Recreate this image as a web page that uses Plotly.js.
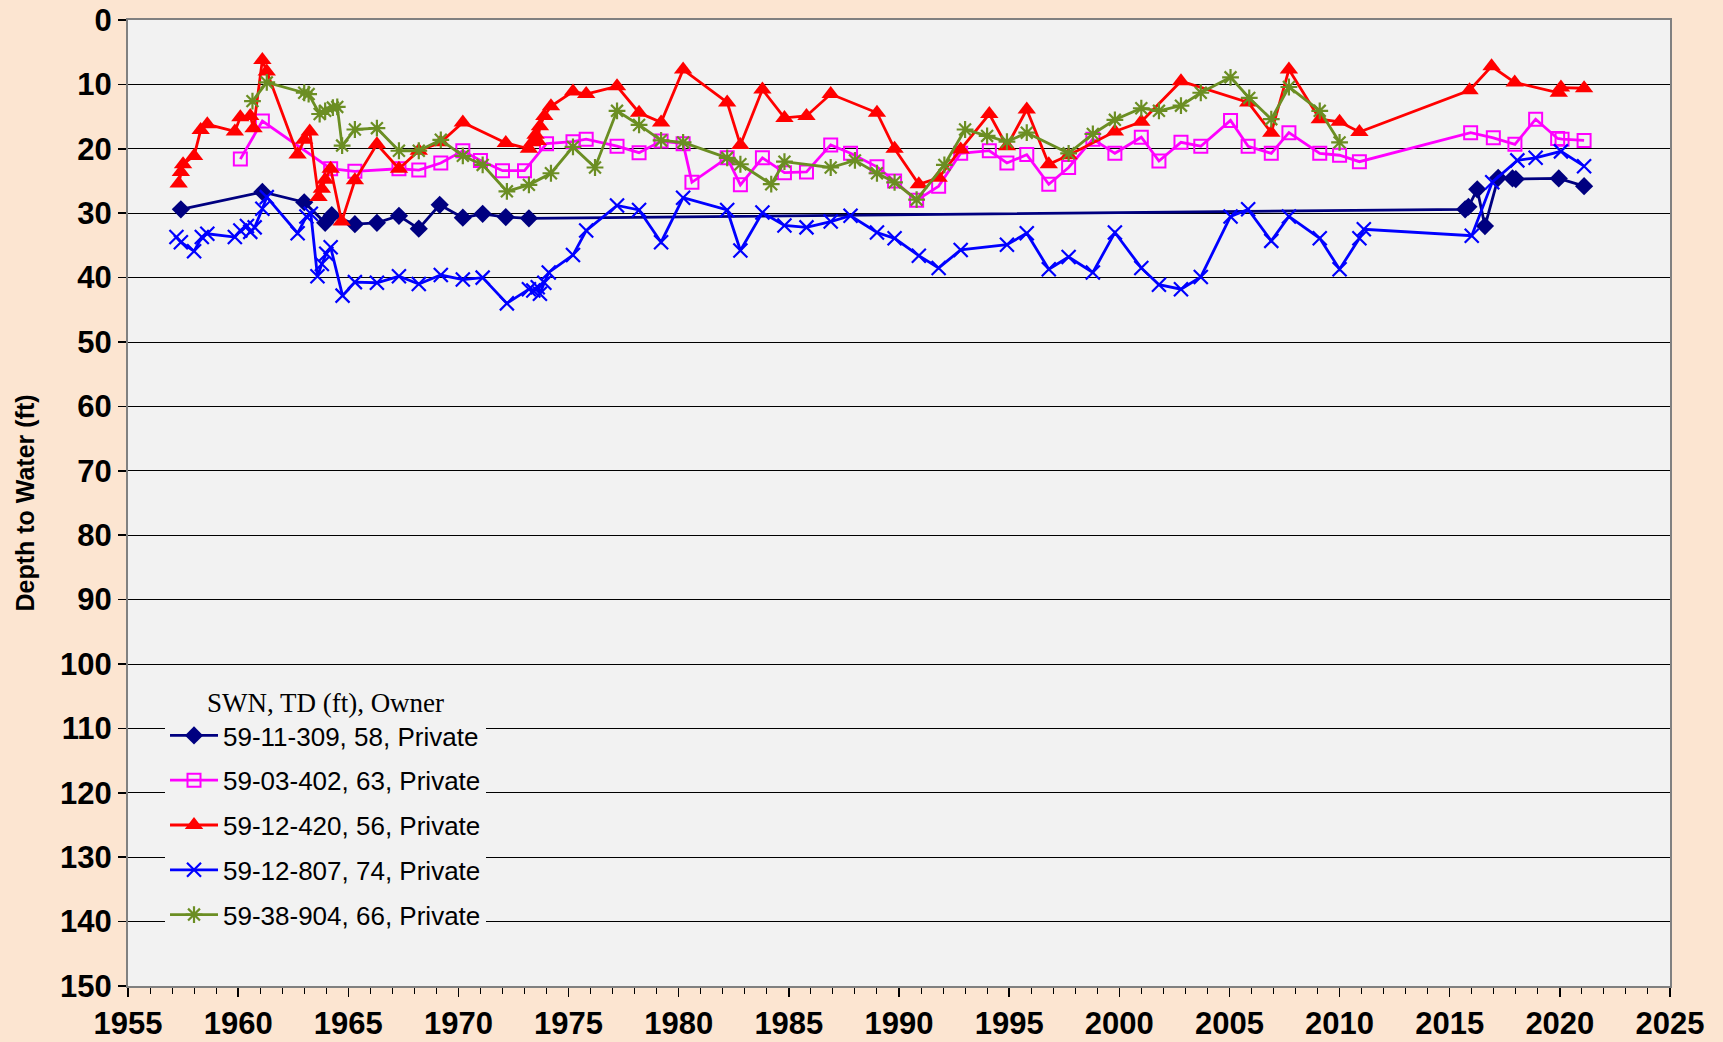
<!DOCTYPE html>
<html>
<head>
<meta charset="utf-8">
<script src="https://cdn.plot.ly/plotly-3.0.1.min.js"></script>
<style>html,body{margin:0;padding:0;background:#FCE5D1;}#chart{width:1723px;height:1042px;}</style>
</head>
<body>
<div id="chart"></div>
<script>
// Series names
const names = ["59-11-309, 58, Private", "59-03-402, 63, Private", "59-12-420, 56, Private", "59-12-807, 74, Private", "59-38-904, 66, Private"];

// 59-11-309
const x309 = [1957.4, 1961.1, 1963.0, 1963.95, 1964.25, 1965.3, 1966.3, 1967.3, 1968.2, 1969.15, 1970.2, 1971.1, 1972.15, 1973.2, 2015.7, 2015.85, 2016.25, 2016.6, 2017.2, 2017.85, 2018.0, 2019.95, 2021.1];
const y309 = [29.4, 26.7, 28.3, 31.5, 30.3, 31.7, 31.5, 30.4, 32.4, 28.7, 30.7, 30.1, 30.6, 30.8, 29.4, 29.0, 26.3, 32.0, 24.5, 24.6, 24.7, 24.6, 25.8];

// 59-03-402
const x402 = [1960.1, 1961.1, 1964.2, 1965.3, 1967.3, 1968.2, 1969.2, 1970.2, 1971.0, 1972.0, 1973.0, 1974.0, 1975.2, 1975.8, 1977.2, 1978.2, 1979.2, 1980.2, 1980.6, 1982.2, 1982.8, 1983.8, 1984.8, 1985.8, 1986.9, 1987.8, 1989.0, 1989.8, 1990.8, 1991.8, 1992.8, 1994.1, 1994.9, 1995.8, 1996.8, 1997.7, 1998.8, 1999.8, 2001.0, 2001.8, 2002.8, 2003.7, 2005.05, 2005.85, 2006.9, 2007.7, 2009.1, 2010.0, 2010.9, 2015.95, 2016.98, 2017.96, 2018.9, 2019.9, 2020.1, 2021.1];
const y402 = [21.6, 15.7, 23.1, 23.5, 23.1, 23.3, 22.2, 20.3, 21.8, 23.4, 23.4, 19.2, 18.9, 18.5, 19.6, 20.6, 18.8, 19.2, 25.2, 21.4, 25.6, 21.4, 23.7, 23.6, 19.4, 20.7, 22.8, 25.0, 28.0, 25.8, 20.7, 20.3, 22.2, 20.9, 25.5, 22.9, 18.5, 20.7, 18.2, 21.9, 19.0, 19.6, 15.6, 19.6, 20.7, 17.5, 20.7, 21.0, 22.0, 17.5, 18.3, 19.3, 15.4, 18.4, 18.5, 18.7];

// 59-12-420
const x420 = [1957.3, 1957.4, 1957.5, 1958.0, 1958.3, 1958.6, 1959.85, 1960.1, 1960.55, 1960.7, 1961.1, 1961.3, 1962.7, 1963.0, 1963.25, 1963.65, 1963.8, 1963.95, 1964.2, 1964.7, 1965.3, 1966.3, 1967.3, 1968.2, 1969.2, 1970.2, 1972.15, 1973.2, 1973.35, 1973.5, 1973.6, 1973.7, 1973.9, 1974.2, 1975.2, 1975.8, 1977.2, 1978.2, 1979.2, 1980.2, 1982.2, 1982.8, 1983.8, 1984.8, 1985.8, 1986.9, 1989.0, 1989.8, 1990.9, 1991.8, 1992.8, 1994.1, 1994.9, 1995.8, 1996.8, 1997.7, 1999.8, 2001.0, 2002.8, 2005.85, 2006.9, 2007.7, 2009.1, 2010.0, 2010.9, 2015.9, 2016.9, 2017.95, 2019.95, 2020.05, 2021.1];
const y420 = [25.4, 23.6, 22.4, 21.1, 17.1, 16.2, 17.3, 15.1, 14.9, 16.8, 6.2, 8.0, 20.9, 18.6, 17.3, 27.5, 26.2, 24.8, 23.1, 31.3, 24.9, 19.3, 23.1, 20.3, 19.0, 15.9, 19.1, 20.0, 19.0, 17.8, 18.8, 16.5, 14.9, 13.4, 11.1, 11.5, 10.3, 14.4, 15.9, 7.7, 12.8, 19.4, 10.8, 15.2, 14.9, 11.5, 14.4, 20.0, 25.5, 24.5, 20.1, 14.6, 19.6, 13.9, 22.4, 21.0, 17.3, 15.8, 9.5, 12.8, 17.5, 7.7, 15.4, 15.8, 17.4, 10.9, 7.2, 9.7, 11.3, 10.5, 10.6];

// 59-12-807
const x807 = [1957.2, 1957.4, 1958.0, 1958.35, 1958.6, 1959.85, 1960.1, 1960.4, 1960.55, 1960.75, 1961.1, 1961.3, 1962.7, 1963.1, 1963.3, 1963.6, 1963.8, 1964.0, 1964.2, 1964.74, 1965.3, 1966.3, 1967.3, 1968.2, 1969.2, 1970.2, 1971.1, 1972.2, 1973.2, 1973.4, 1973.6, 1973.7, 1973.9, 1974.1, 1975.2, 1975.8, 1977.2, 1978.2, 1979.2, 1980.2, 1982.2, 1982.8, 1983.8, 1984.8, 1985.8, 1986.9, 1987.8, 1989.0, 1989.8, 1990.9, 1991.8, 1992.8, 1994.9, 1995.8, 1996.8, 1997.7, 1998.8, 1999.8, 2001.0, 2001.8, 2002.8, 2003.7, 2005.05, 2005.85, 2006.9, 2007.7, 2009.1, 2010.0, 2010.9, 2011.1, 2016.0, 2016.93, 2018.07, 2018.9, 2020.05, 2021.1];
const y807 = [33.7, 34.5, 35.9, 33.7, 33.2, 33.7, 32.7, 32.0, 32.9, 32.2, 29.3, 27.5, 33.1, 30.5, 30.1, 39.8, 37.9, 36.3, 35.3, 42.8, 40.7, 40.8, 39.8, 41.0, 39.6, 40.3, 40.0, 44.0, 41.8, 42.0, 41.5, 42.5, 40.8, 39.2, 36.5, 32.7, 28.8, 29.5, 34.5, 27.6, 29.5, 35.8, 29.9, 31.9, 32.2, 31.3, 30.4, 33.0, 33.9, 36.6, 38.5, 35.7, 34.9, 33.1, 38.7, 36.8, 39.2, 33.0, 38.5, 41.1, 41.8, 39.9, 30.5, 29.4, 34.3, 30.5, 33.9, 38.7, 33.9, 32.5, 33.5, 25.2, 21.8, 21.4, 20.4, 22.7];

// 59-38-904
const x904 = [1960.65, 1961.3, 1963.0, 1963.2, 1963.7, 1963.95, 1964.3, 1964.5, 1964.72, 1965.3, 1966.3, 1967.3, 1968.2, 1969.2, 1970.2, 1971.1, 1972.2, 1973.2, 1974.2, 1975.2, 1976.2, 1977.2, 1978.2, 1979.2, 1980.2, 1982.2, 1982.8, 1984.2, 1984.8, 1986.9, 1988.0, 1989.0, 1989.8, 1990.8, 1992.06, 1993.0, 1994.0, 1994.9, 1995.8, 1997.7, 1998.8, 1999.8, 2001.0, 2001.8, 2002.8, 2003.7, 2005.05, 2005.9, 2006.9, 2007.7, 2009.1, 2010.0];
const y904 = [12.6, 9.7, 11.3, 11.5, 14.6, 14.1, 13.6, 13.5, 19.5, 17.0, 16.8, 20.3, 20.3, 18.6, 21.1, 22.5, 26.6, 25.6, 23.8, 19.7, 22.9, 14.1, 16.3, 18.7, 19.0, 21.4, 22.4, 25.5, 22.0, 22.9, 21.8, 23.8, 25.2, 27.9, 22.5, 17.0, 18.0, 18.9, 17.5, 20.7, 17.7, 15.5, 13.7, 14.1, 13.3, 11.3, 8.9, 12.1, 15.4, 10.4, 14.1, 19.0];

const yTicks = [0, 10, 20, 30, 40, 50, 60, 70, 80, 90, 100, 110, 120, 130, 140, 150];
const xTicks = [1955, 1960, 1965, 1970, 1975, 1980, 1985, 1990, 1995, 2000, 2005, 2010, 2015, 2020, 2025];

const traces = [
  {x: x309, y: y309, name: names[0], legendgroup: 'g1', mode: 'lines+markers',
   line: {color: '#000080', width: 2.8}, marker: {symbol: 'diamond', size: 14, color: '#000080'}},
  {x: x402, y: y402, name: names[1], legendgroup: 'g2', mode: 'lines+markers',
   line: {color: '#FF00FF', width: 2.8}, marker: {symbol: 'square-open', size: 13, color: '#FF00FF', line: {width: 2, color: '#FF00FF'}}},
  {x: x420, y: y420, name: names[2], legendgroup: 'g3', mode: 'lines+markers',
   line: {color: '#FF0000', width: 2.8}, marker: {symbol: 'triangle-up', size: 16, color: '#FF0000'}},
  {x: x807, y: y807, name: names[3], legendgroup: 'g4', mode: 'lines+markers',
   line: {color: '#0000FF', width: 2.8}, marker: {symbol: 'x-thin-open', size: 14, color: '#0000FF', line: {width: 2.2, color: '#0000FF'}}},
  {x: x904, y: y904, name: names[4], legendgroup: 'g5', mode: 'lines+markers',
   line: {color: '#6B8E23', width: 2.8}, marker: {symbol: 'asterisk-open', size: 14, color: '#6B8E23', line: {width: 2.2, color: '#6B8E23'}}}
];

const tickFont = {family: 'Liberation Sans, Arial, sans-serif', size: 31, color: '#000', weight: 700};

const layout = {
  width: 1723, height: 1042,
  paper_bgcolor: '#FCE5D1', plot_bgcolor: '#F2F2F2',
  margin: {l: 128, r: 53, t: 20, b: 56},
  showlegend: true,
  legend: {
    x: 0.024, y: 0.32, xanchor: 'left', yanchor: 'top',
    bgcolor: '#F2F2F2', borderwidth: 0,
    font: {family: 'Liberation Sans, Arial, sans-serif', size: 26, color: '#000'},
    title: {text: 'SWN, TD (ft), Owner', side: 'top center', font: {family: 'Liberation Serif, Times New Roman, serif', size: 27, color: '#000'}},
    traceorder: 'grouped', tracegroupgap: 8, itemwidth: 48
  },
  xaxis: {
    range: [1955, 2025], tickmode: 'array', tickvals: xTicks, ticktext: xTicks.map(String),
    ticks: 'outside', ticklen: 9, tickwidth: 1.5, tickcolor: '#000',
    minor: {dtick: 1, ticks: 'outside', ticklen: 6, tickwidth: 1, tickcolor: '#000', showgrid: false},
    showgrid: false, zeroline: false,
    showline: true, linecolor: '#808080', linewidth: 2, mirror: true,
    tickfont: tickFont
  },
  yaxis: {
    range: [150, 0], tickmode: 'array', tickvals: yTicks, ticktext: yTicks.map(String),
    ticks: 'outside', ticklen: 8, tickwidth: 1.5, tickcolor: '#000',
    showgrid: true, gridcolor: '#000', gridwidth: 1, zeroline: false,
    showline: true, linecolor: '#808080', linewidth: 2, mirror: true,
    tickfont: tickFont,
    title: {text: 'Depth to Water (ft)', standoff: 18, font: {family: 'Liberation Sans, Arial, sans-serif', size: 25, color: '#000', weight: 700}}
  }
};

Plotly.newPlot('chart', traces, layout, {displayModeBar: false, staticPlot: true});
</script>
</body>
</html>
